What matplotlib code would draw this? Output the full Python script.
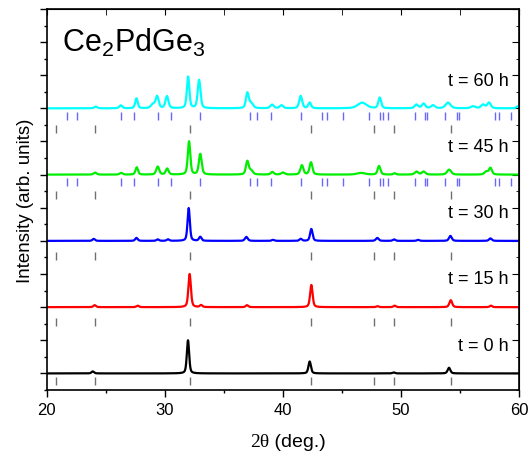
import numpy as np
import matplotlib
matplotlib.use('Agg')
import matplotlib.pyplot as plt
from matplotlib.ticker import MultipleLocator

plt.rcParams['font.family'] = ['Liberation Sans', 'DejaVu Sans']
plt.rcParams['mathtext.default'] = 'regular'

# ── peak lists (2theta, height, fwhm) ────────────────────────────────────────
labels = ['t = 0 h', 't = 15 h', 't = 30 h', 't = 45 h', 't = 60 h']
colors = ['black', '#ff0000', '#0000ff', '#00ee00', '#00ffff']
offsets = [0, 2, 4, 6, 8]

pos_0 = [23.9, 31.96, 42.26, 49.37, 54.05]
amp_0 = [0.06, 1.0, 0.36, 0.03, 0.17]
wid_0 = [0.25, 0.23, 0.25, 0.25, 0.27]

pos_15 = [24.06, 27.7, 32.1, 33.07, 36.95, 42.4, 48.0, 49.45, 54.2, 57.6]
amp_15 = [0.06, 0.045, 1.0, 0.06, 0.06, 0.67, 0.03, 0.045, 0.21, 0.045]
wid_15 = [0.25, 0.25, 0.25, 0.25, 0.25, 0.25, 0.25, 0.25, 0.28, 0.25]

pos_30 = [23.98, 27.6, 29.4, 30.27, 32.02, 33.0, 36.9, 39.15, 41.5, 42.4,
          47.98, 49.4, 51.43, 54.17, 57.56]
amp_30 = [0.06, 0.09, 0.045, 0.045, 0.99, 0.12, 0.12, 0.03, 0.06, 0.36,
          0.09, 0.045, 0.03, 0.15, 0.075]
wid_30 = [0.25, 0.25, 0.25, 0.25, 0.23, 0.25, 0.28, 0.25, 0.25, 0.25,
          0.28, 0.25, 0.25, 0.28, 0.28]

pos_45 = [24.1, 26.3, 27.62, 29.4, 30.2, 32.05, 33.0, 36.98, 37.3, 39.1,
          40.0, 41.6, 42.37, 46.6, 48.13, 49.45, 51.3, 51.9, 54.06, 57.2,
          57.56]
amp_45 = [0.06, 0.05, 0.22, 0.24, 0.18, 1.0, 0.62, 0.4, 0.12, 0.08,
          0.06, 0.28, 0.37, 0.05, 0.26, 0.04, 0.09, 0.09, 0.15, 0.09,
          0.2]
wid_45 = [0.3, 0.3, 0.25, 0.3, 0.28, 0.25, 0.28, 0.28, 0.35, 0.3,
          0.35, 0.3, 0.28, 0.8, 0.28, 0.25, 0.35, 0.35, 0.4, 0.35,
          0.3]

pos_60 = [24.15, 26.27, 27.6, 29.0, 29.35, 30.18, 31.97, 32.9, 36.98, 37.3,
          39.08, 39.87, 41.5, 42.26, 46.7, 48.19, 51.29, 51.9, 52.7, 53.97,
          56.08, 56.93, 57.44, 59.9]
amp_60 = [0.05, 0.09, 0.3, 0.12, 0.35, 0.36, 0.95, 0.85, 0.45, 0.15,
          0.11, 0.09, 0.37, 0.17, 0.17, 0.32, 0.11, 0.14, 0.09, 0.17,
          0.06, 0.11, 0.17, 0.06]
wid_60 = [0.3, 0.3, 0.25, 0.4, 0.3, 0.3, 0.25, 0.28, 0.28, 0.4,
          0.35, 0.35, 0.3, 0.28, 0.9, 0.28, 0.35, 0.35, 0.4, 0.5,
          0.45, 0.4, 0.35, 0.35]

patterns = [(pos_0, amp_0, wid_0), (pos_15, amp_15, wid_15),
            (pos_30, amp_30, wid_30), (pos_45, amp_45, wid_45),
            (pos_60, amp_60, wid_60)]

# Bragg reflection markers
bragg_main = [20.82, 24.12, 32.1, 42.4, 47.7, 49.4, 54.2]
bragg_second = [21.75, 22.6, 26.32, 27.39, 29.42, 30.55, 32.95, 37.18, 37.8,
                39.02, 41.5, 43.3, 43.73, 45.08, 47.28, 48.24, 48.47, 48.9,
                51.2, 51.99, 52.16, 53.74, 54.7, 54.9, 57.94, 58.3, 59.27]


def profile(x, pos, amp, wid):
    y = np.zeros_like(x)
    for p, a, w in zip(pos, amp, wid):
        g = np.exp(-4 * np.log(2) * ((x - p) / w) ** 2)
        lor = 1 / (1 + 4 * ((x - p) / w) ** 2)
        y += a * (0.55 * g + 0.45 * lor)
    return y


x = np.linspace(20, 60, 4001)

fig, ax = plt.subplots(figsize=(5.28, 4.52), dpi=100)
fig.subplots_adjust(left=0.0884, right=0.9835, top=0.978, bottom=0.135)

for i, (pos, amp, wid) in enumerate(patterns):
    y = profile(x, pos, amp, wid) + offsets[i]
    ax.plot(x, y, color=colors[i], lw=1.6)
    ax.text(59.1, offsets[i] + 0.85, labels[i], ha='right', va='center',
            fontsize=13)

# tick rows under each pattern
for i, off in enumerate(offsets):
    if i >= 3:
        ax.vlines(bragg_second, off - 0.35, off - 0.1, color='#6868ff', lw=1)
        ax.vlines(bragg_main, off - 0.75, off - 0.5, color='#707070', lw=1)
    elif i == 0:
        ax.vlines(bragg_main, off - 0.35, off - 0.1, color='#707070', lw=1)
    else:
        ax.vlines(bragg_main, off - 0.57, off - 0.33, color='#707070', lw=1)

ax.text(21.3, 9.74, 'Ce$_2$PdGe$_3$', fontsize=22, va='baseline', ha='left')

ax.set_xlim(20, 60)
ax.set_ylim(-0.5, 11)
ax.xaxis.set_major_locator(MultipleLocator(10))
ax.xaxis.set_minor_locator(MultipleLocator(5))
ax.yaxis.set_major_locator(MultipleLocator(1))
ax.yaxis.set_minor_locator(MultipleLocator(0.5))
ax.tick_params(axis='both', which='major', direction='out', length=5,
               width=1, labelsize=12)
ax.tick_params(axis='both', which='minor', direction='out', length=2.5,
               width=1)
ax.tick_params(axis='y', labelleft=False)

# mirrored axes with inward ticks
sec_y = ax.secondary_yaxis('right')
sec_y.yaxis.set_major_locator(MultipleLocator(1))
sec_y.yaxis.set_minor_locator(MultipleLocator(0.5))
sec_y.tick_params(which='major', direction='in', length=5, labelright=False)
sec_y.tick_params(which='minor', direction='in', length=2.5)
sec_x = ax.secondary_xaxis('top')
sec_x.xaxis.set_major_locator(MultipleLocator(10))
sec_x.xaxis.set_minor_locator(MultipleLocator(5))
sec_x.tick_params(which='major', direction='in', length=4.5, labeltop=False)
sec_x.tick_params(which='minor', direction='in', length=4.5)

for sp in ax.spines.values():
    sp.set_linewidth(1.2)

ax.set_ylabel('Intensity (arb. units)', fontsize=13.5)
ax.yaxis.set_label_coords(-0.027, 0.5)

ax.text(0.470, -0.113, '2θ', transform=ax.transAxes, ha='right', va='top',
        fontsize=14, family='Liberation Serif')
ax.text(0.470, -0.113, ' (deg.)', transform=ax.transAxes, ha='left',
        va='top', fontsize=14)

fig.savefig('out.png', dpi=100)
